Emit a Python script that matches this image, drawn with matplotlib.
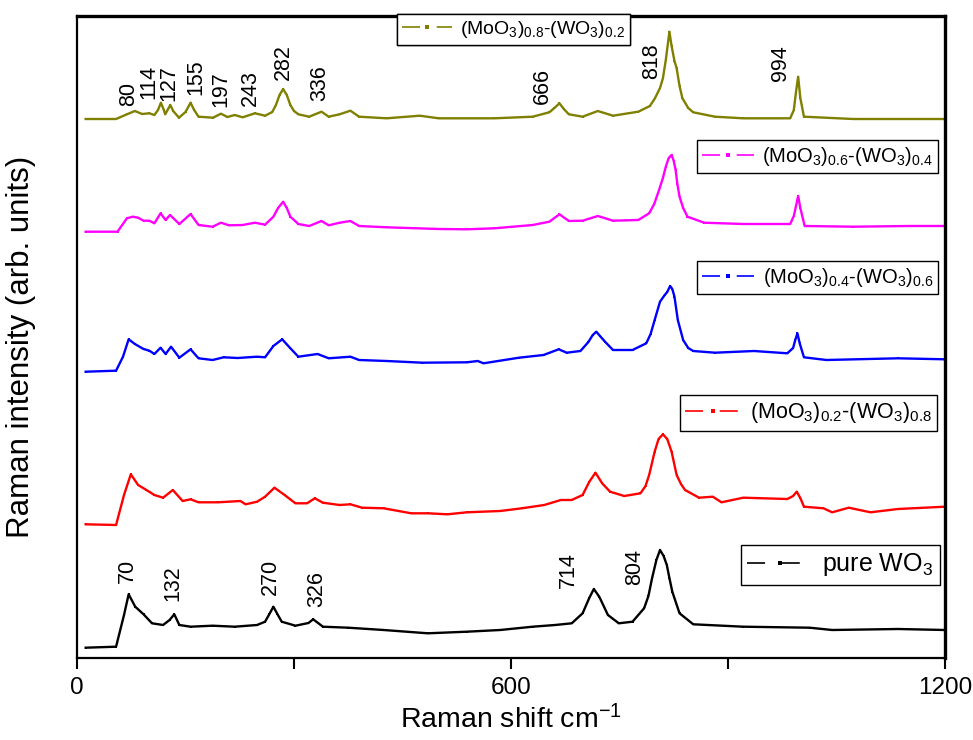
import matplotlib
matplotlib.use("Agg")
import matplotlib.pyplot as plt
from matplotlib.lines import Line2D
from matplotlib.legend_handler import HandlerTuple

plt.rcParams['font.family'] = ['Liberation Sans', 'DejaVu Sans']
plt.rcParams['mathtext.fontset'] = 'custom'
plt.rcParams['mathtext.rm'] = 'Liberation Sans'
plt.rcParams['mathtext.it'] = 'Liberation Sans:italic'
plt.rcParams['mathtext.bf'] = 'Liberation Sans:bold'
plt.rcParams['lines.scale_dashes'] = False

# ---------------- data (offsets included, arb. units) ----------------
mo08_x = [12, 54, 69, 80, 90, 100, 107, 112, 116, 120, 122, 126, 129, 133, 141, 150, 157, 162, 168, 188,
          199, 208, 218, 229, 246, 260, 270, 275, 280, 285, 290, 295, 300, 306, 321, 338, 348, 363, 378, 390,
          428, 474, 500, 577, 630, 653, 660, 667, 673, 680, 699, 720, 741, 776, 792, 799, 806, 810, 814, 817,
          819, 822, 826, 829, 833, 837, 845, 852, 882, 921, 986, 991, 994, 997, 1000, 1005, 1073, 1200]
mo08_y = [539, 539, 543.7, 547, 544, 544.7, 543, 548, 555.3, 548, 543.7, 549, 553, 547, 540.3, 546, 555.3, 548, 541.3, 540.3,
          544.3, 541, 543, 540.7, 544.7, 542.3, 546, 553, 563, 569, 563, 553, 547, 543.7, 541.3, 546.3, 541.3, 543.7, 547.3, 541.3,
          539.7, 542.3, 539.7, 539.7, 541.3, 545.7, 550, 554.7, 549, 543.7, 541.3, 547, 542.3, 546.3, 552, 559.7, 570, 579.7, 598, 615,
          626.3, 612, 597, 589.7, 572, 559.7, 550, 545.7, 541.3, 539.7, 539.7, 548, 566, 581.3, 560, 541.3, 539, 539]

mo06_x = [12, 56, 69, 77, 84.5, 92, 100, 107, 115.5, 122.5, 128.6, 141.5, 157, 168, 187.5, 199, 210, 229, 246, 260,
          271.5, 278, 285, 290, 295, 306, 321, 338, 348, 363, 378, 390, 428, 500, 539, 577, 630, 653, 667, 680,
          699, 720, 741, 776, 791, 798, 804.7, 810, 814, 818, 822, 825, 827.6, 830, 833, 838, 844, 867, 921, 986,
          991, 994, 997, 1000, 1006, 1073, 1150, 1200]
mo06_y = [426.3, 426.3, 439.7, 441.3, 440.3, 437.3, 437.3, 434.7, 444.7, 438, 443, 434, 444, 433, 431.3, 435.3, 432.7, 433, 435.3, 433.3,
          441.3, 450, 456.3, 450, 441.3, 434, 432, 437, 432.7, 435.3, 437, 432, 430.7, 429, 428.7, 429.7, 433, 436.3, 443.7, 437,
          437.3, 442, 437.3, 438, 444.7, 454, 468, 480, 491.3, 500, 503, 497, 488, 474, 461.3, 450, 441.3, 435.3, 434, 434,
          442, 452, 462, 450, 432, 431.3, 432, 432]

mo04_x = [12, 54, 63.6, 71.4, 80, 92, 100, 107, 115.5, 122.5, 130, 141.5, 157, 168, 187.5, 202.7, 222, 249, 260, 271.5,
          283.7, 295, 306, 332.6, 348, 378, 390, 428, 477.6, 539, 554, 562, 611, 645, 666, 677, 696, 707, 713, 718,
          723, 730, 741, 768, 787, 793, 798.6, 806, 812.5, 816, 820, 823, 826, 830.6, 838, 845, 852, 882, 936, 982,
          990, 993, 996, 999, 1005, 1036, 1135, 1200]
mo04_y = [286.3, 287.3, 301.3, 318.7, 314, 309, 307.3, 304, 310.3, 304, 311.3, 300.3, 308.7, 299.7, 298, 300.7, 300, 301.3, 300.7, 312,
          318.7, 309.7, 301.3, 304, 299.7, 301.3, 298, 297, 295.3, 295.7, 297, 294.7, 300.3, 303, 308.7, 305.3, 307, 316, 323, 326.3,
          322, 316.3, 308, 308, 314.7, 324, 338, 356.3, 363, 366, 372, 369, 361.3, 338, 318, 310, 307, 305.3, 307, 304.7,
          310, 318, 324.7, 315, 300.7, 298, 299.7, 298.7]

mo02_x = [12, 54, 65, 74.4, 84.5, 96, 107, 119, 132.5, 146, 157, 168, 195, 226, 233, 249, 260, 273, 287, 302,
          318, 328.8, 340, 363, 378, 394, 424, 462, 485, 512, 539, 585, 615, 646, 669, 683.8, 699, 708.3, 716.8, 726,
          737, 756.5, 779, 786, 791, 798.6, 804, 810, 816, 822, 829, 835, 840.6, 860, 879, 891, 921, 982, 990, 995,
          1000, 1005, 1032, 1044, 1067, 1097, 1135, 1200]
mo02_y = [133.7, 133, 163, 183.7, 173, 168, 163, 160.3, 168, 157, 158.7, 155.7, 155.7, 157, 153.7, 156.3, 161.3, 170.3, 163, 154.7,
          154.7, 159.7, 155.3, 153, 153.7, 150.3, 149.7, 144.7, 144.7, 143.7, 145.7, 147, 149.7, 153, 158, 158, 163, 176.3, 185.3, 174.7,
          166.3, 162, 164.7, 172, 183, 206.3, 219, 223.7, 219, 206.3, 183, 174, 168, 160.3, 161.3, 155.7, 160.3, 159, 162, 166.3,
          160, 151.3, 149.7, 145.7, 150.3, 145.7, 149, 151.3]

wo3_x = [12, 54, 65, 71.4, 80.5, 92, 103.7, 119, 128, 134.5, 141.5, 157, 187.5, 218, 249, 260, 266, 271.5, 277, 283,
         302, 320, 326.5, 340, 375, 424, 485, 539, 585, 630, 661, 684, 699, 708, 714.5, 722, 734, 749, 768, 784,
         790, 795, 801, 806, 811, 815.4, 819, 823, 833, 852, 921, 1013, 1044, 1135, 1200]
wo3_y = [10.3, 11.3, 43, 63.7, 51.3, 43.7, 34.7, 33, 38, 43.7, 33, 31.3, 32.3, 31.3, 33, 36.3, 44, 51.3, 44, 36.3,
         32.3, 35, 38.7, 31.3, 30.3, 28, 24.7, 26.3, 28, 31.3, 33, 34.7, 44.7, 59.7, 69, 61.3, 43, 34.7, 36.3, 49.7,
         62, 79.7, 98, 108, 102, 93, 80, 66.3, 44.7, 33.7, 31.3, 30.3, 28, 29, 28]

# peak labels: (text, x position in cm-1, height in arb. units)
top_labels = ['80', '114', '127', '155', '197', '243', '282', '336', '666', '818', '994']
top_label_x = [72, 99, 127, 165, 199, 239, 285, 336, 643, 795, 972]
top_label_y = [564, 576, 575, 581, 569, 570, 596, 575, 572, 597, 595]

wo3_labels = ['70', '132', '270', '326', '714', '804']
wo3_label_x = [69, 133, 268, 332, 680, 771]
wo3_label_y = [87, 75, 81, 69, 88, 91]

series = [
    (wo3_x, wo3_y, '#000000', 'pure WO$_3$'),
    (mo02_x, mo02_y, '#FF0000', '(MoO$_3$)$_{0.2}$-(WO$_3$)$_{0.8}$'),
    (mo04_x, mo04_y, '#0000FF', '(MoO$_3$)$_{0.4}$-(WO$_3$)$_{0.6}$'),
    (mo06_x, mo06_y, '#FF00FF', '(MoO$_3$)$_{0.6}$-(WO$_3$)$_{0.4}$'),
    (mo08_x, mo08_y, '#808000', '(MoO$_3$)$_{0.8}$-(WO$_3$)$_{0.2}$'),
]

# ---------------- figure ----------------
fig = plt.figure(figsize=(9.73, 7.40), dpi=100)
ax = fig.add_axes([77 / 973, 1 - 658 / 740, 868 / 973, 642 / 740])

for xs, ys, c, lab in series:
    ax.plot(xs, ys, color=c, lw=1.7, marker='s', ms=2.0, mew=0)

ax.set_xlim(0, 1200)
ax.set_ylim(0, 642)
ax.set_xticks([0, 300, 600, 900, 1200])
ax.set_xticklabels(['0', '', '600', '', '1200'])
ax.set_yticks([])
ax.tick_params(axis='x', direction='out', length=8, width=1.5, labelsize=17.5, pad=6)
for s in ['left', 'bottom']:
    ax.spines[s].set_linewidth(1.6)
for s in ['top', 'right']:
    ax.spines[s].set_linewidth(2.4)

ax.set_xlabel('Raman shift cm$^{-1}$', fontsize=20.5, labelpad=4)
ax.set_ylabel('Raman intensity (arb. units)', fontsize=22.5, va='center')
ax.yaxis.set_label_coords(-0.064, 0.484)

for t, x, y in zip(top_labels, top_label_x, top_label_y):
    ax.text(x, y, t, rotation=90, ha='center', va='center', fontsize=15.5)
for t, x, y in zip(wo3_labels, wo3_label_x, wo3_label_y):
    ax.text(x, y, t, rotation=90, ha='center', va='center', fontsize=15.5)

# ---------------- legends ----------------
def make_handle(c):
    ln = Line2D([], [], color=c, lw=1.2, linestyle=(0, (13, 12)))
    mk = Line2D([], [], color=c, lw=0, marker='s', ms=3.2, mew=0)
    return (ln, mk)

leg_pos = {
    '#808000': dict(loc='upper left', bbox_to_anchor=(0.3687, 1.003), fs=14),
    '#FF00FF': dict(loc='upper right', bbox_to_anchor=(0.992, 0.807), fs=14.5),
    '#0000FF': dict(loc='upper right', bbox_to_anchor=(0.992, 0.618), fs=14.5),
    '#FF0000': dict(loc='upper right', bbox_to_anchor=(0.991, 0.410), fs=15.5),
    '#000000': dict(loc='upper right', bbox_to_anchor=(0.994, 0.176), fs=18),
}

for xs, ys, c, lab in series:
    p = leg_pos[c]
    leg = ax.legend([make_handle(c)], [lab], loc=p['loc'], bbox_to_anchor=p['bbox_to_anchor'],
                    borderaxespad=0, fontsize=p['fs'], frameon=True, fancybox=False,
                    edgecolor='black', framealpha=1, borderpad=0.25, handlelength=2.6,
                    handletextpad=0.4, handler_map={tuple: HandlerTuple(ndivide=1)})
    leg.get_frame().set_linewidth(1.0)
    ax.add_artist(leg)

fig.savefig('out.png', dpi=100)
